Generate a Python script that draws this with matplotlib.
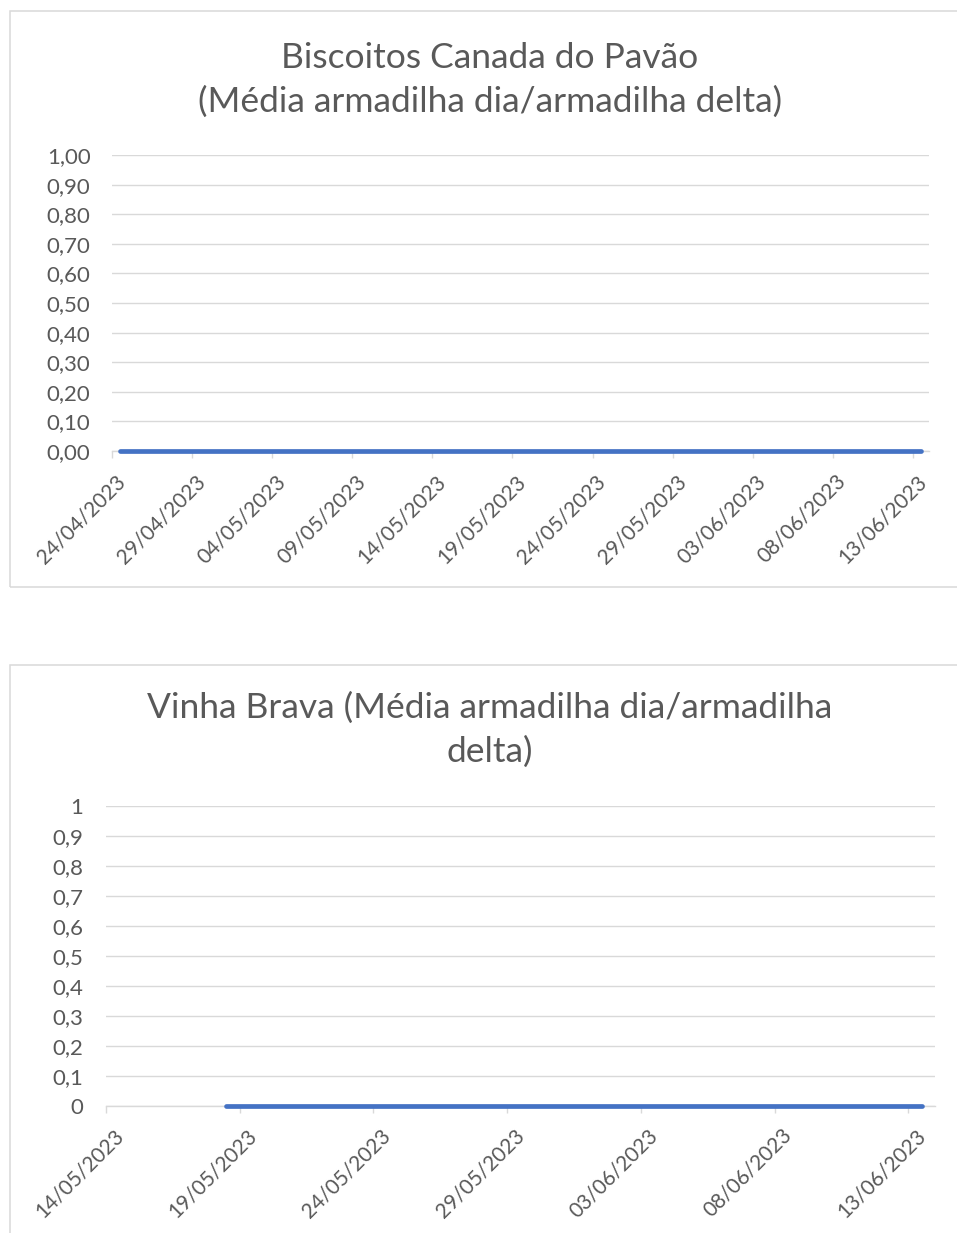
import numpy as np
import pandas as pd
import matplotlib
matplotlib.use('Agg')
import matplotlib.pyplot as plt
import matplotlib.dates as mdates
from matplotlib.patches import Rectangle
from matplotlib.transforms import blended_transform_factory, ScaledTranslation

plt.rcParams['font.family'] = ['Lato', 'DejaVu Sans']

# Biscoitos Canada do Pavão
bcp_title = 'Biscoitos Canada do Pavão\n(Média armadilha dia/armadilha delta)'
bcp_dates = ['24/04/2023', '02/05/2023', '09/05/2023', '16/05/2023', '23/05/2023',
             '30/05/2023', '06/06/2023', '13/06/2023']
bcp_values = [0, 0, 0, 0, 0, 0, 0, 0]
bcp_xticks = ['24/04/2023', '29/04/2023', '04/05/2023', '09/05/2023', '14/05/2023',
              '19/05/2023', '24/05/2023', '29/05/2023', '03/06/2023', '08/06/2023',
              '13/06/2023']
bcp_yticks = [0.0, 0.1, 0.2, 0.3, 0.4, 0.5, 0.6, 0.7, 0.8, 0.9, 1.0]
bcp_ylabels = ['0,00', '0,10', '0,20', '0,30', '0,40', '0,50', '0,60', '0,70', '0,80', '0,90', '1,00']

# Vinha Brava
vb_title = 'Vinha Brava (Média armadilha dia/armadilha\ndelta)'
vb_dates = ['18/05/2023', '25/05/2023', '01/06/2023', '08/06/2023', '13/06/2023']
vb_values = [0, 0, 0, 0, 0]
vb_xticks = ['14/05/2023', '19/05/2023', '24/05/2023', '29/05/2023', '03/06/2023',
             '08/06/2023', '13/06/2023']
vb_yticks = [0.0, 0.1, 0.2, 0.3, 0.4, 0.5, 0.6, 0.7, 0.8, 0.9, 1.0]
vb_ylabels = ['0', '0,1', '0,2', '0,3', '0,4', '0,5', '0,6', '0,7', '0,8', '0,9', '1']

W, H = 957, 1233
TXT = '#595959'
GRID = '#D9D9D9'
LINE = '#4472C4'

fig = plt.figure(figsize=(W / 100, H / 100), dpi=100)


def px_rect(l, t, r, b):
    return [l / W, 1 - b / H, (r - l) / W, (b - t) / H]


def draw_chart(box, axrect, title, title_y, dates, values, xticks, yticks, ylabels,
               ypad, lab_dx, lab_dy):
    l, t, r, b = box
    fig.patches.append(Rectangle((l / W, 1 - b / H), (r - l) / W, (b - t) / H,
                                 transform=fig.transFigure, fill=False,
                                 edgecolor=GRID, linewidth=1.1))
    fig.text(490 / W, 1 - title_y / H, title, ha='center', va='center',
             fontsize=25.5, color=TXT, linespacing=1.45)

    ax = fig.add_axes(px_rect(*axrect))
    d = pd.to_datetime(dates, format='%d/%m/%Y')
    x = mdates.date2num(d) + 0.5  # points sit in the middle of each day slot
    ax.plot(x, values, color=LINE, linewidth=3.4, solid_capstyle='round', clip_on=False,
            zorder=3)

    tk = mdates.date2num(pd.to_datetime(xticks, format='%d/%m/%Y'))
    ax.set_xlim(tk[0], tk[-1] + 1)
    ax.set_ylim(0, 1)
    ax.set_xticks(tk)
    ax.set_xticklabels([])
    ax.tick_params(axis='x', direction='out', length=5, width=1, color=GRID)
    ax.set_yticks(yticks)
    ax.set_yticklabels(ylabels)
    ax.tick_params(axis='y', length=0, pad=ypad, labelsize=16, labelcolor=TXT)
    ax.yaxis.grid(True, color=GRID, linewidth=1)
    ax.set_axisbelow(True)
    for s in ['top', 'right', 'left']:
        ax.spines[s].set_visible(False)
    ax.spines['bottom'].set_color(GRID)
    ax.spines['bottom'].set_linewidth(1)

    trans = blended_transform_factory(ax.transData, ax.transAxes) + \
        ScaledTranslation(lab_dx / 100, -lab_dy / 100, fig.dpi_scale_trans)
    for xv, lab in zip(tk, xticks):
        ax.text(xv, 0, lab, transform=trans, rotation=45, rotation_mode='anchor',
                ha='right', va='top', fontsize=15, color=TXT)
    return ax


draw_chart((10, 11, 970, 587), (112, 155, 929, 451), bcp_title, 80,
           bcp_dates, bcp_values, bcp_xticks, bcp_yticks, bcp_ylabels, 15.5, 3, 20)
draw_chart((10, 665, 970, 1250), (106, 806, 935, 1106), vb_title, 730,
           vb_dates, vb_values, vb_xticks, vb_yticks, vb_ylabels, 16.5, 7, 19)

fig.savefig('out.png', dpi=100)
